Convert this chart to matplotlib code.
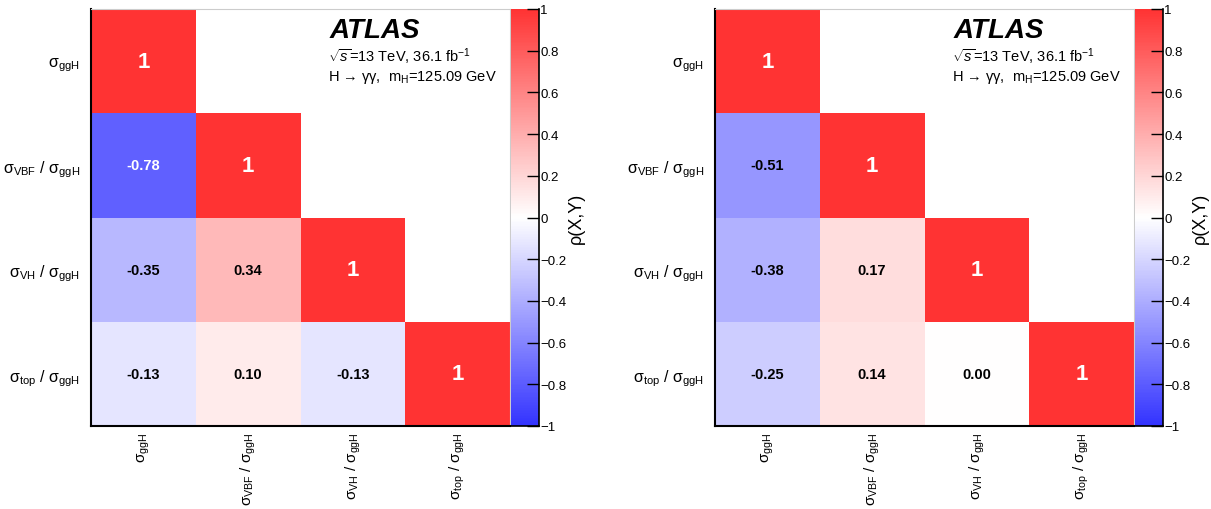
import numpy as np
import matplotlib
matplotlib.use('Agg')
import matplotlib.pyplot as plt
from matplotlib.colors import LinearSegmentedColormap

plt.rcParams['font.family'] = ['Liberation Sans', 'DejaVu Sans']
plt.rcParams['mathtext.fontset'] = 'custom'
plt.rcParams['mathtext.rm'] = 'Liberation Sans'
plt.rcParams['mathtext.it'] = 'Liberation Sans:italic'
plt.rcParams['mathtext.bf'] = 'Liberation Sans:bold'

labels = [r'σ$_{\mathrm{ggH}}$',
          r'σ$_{\mathrm{VBF}}$ / σ$_{\mathrm{ggH}}$',
          r'σ$_{\mathrm{VH}}$ / σ$_{\mathrm{ggH}}$',
          r'σ$_{\mathrm{top}}$ / σ$_{\mathrm{ggH}}$']

# lower triangle, row by row (row 0 = top)
corr_left = [[1.0],
             [-0.78, 1.0],
             [-0.35, 0.34, 1.0],
             [-0.13, 0.10, -0.13, 1.0]]
corr_right = [[1.0],
              [-0.51, 1.0],
              [-0.38, 0.17, 1.0],
              [-0.25, 0.14, 0.00, 1.0]]

cbar_ticks = [-1, -0.8, -0.6, -0.4, -0.2, 0, 0.2, 0.4, 0.6, 0.8, 1]
cbar_ticklabels = ['−1', '−0.8', '−0.6', '−0.4', '−0.2', '0',
                   '0.2', '0.4', '0.6', '0.8', '1']

cmap = LinearSegmentedColormap.from_list('rwb', [(0.2, 0.2, 1.0), (1, 1, 1), (1.0, 0.2, 0.2)])

W, H = 1211, 510
fig = plt.figure(figsize=(W / 100, H / 100), dpi=100)


def to_matrix(rows):
    n = len(rows)
    m = np.full((n, n), np.nan)
    for i, r in enumerate(rows):
        for j, v in enumerate(r):
            m[i, j] = v
    return m


def draw_panel(rows, x0, cx0):
    ax = fig.add_axes([x0 / W, 83 / H, 419 / W, 417 / H])
    cax = fig.add_axes([cx0 / W, 83 / H, 28 / W, 417 / H])
    mat = to_matrix(rows)
    n = mat.shape[0]
    mesh = ax.pcolormesh(np.arange(n + 1), np.arange(n + 1), np.ma.masked_invalid(mat),
                         cmap=cmap, vmin=-1, vmax=1)
    ax.set_xlim(0, n)
    ax.set_ylim(n, 0)
    ax.set_xticks(np.arange(n) + 0.5)
    ax.set_yticks(np.arange(n) + 0.5)
    ax.set_xticklabels(labels, rotation=90, fontsize=11)
    ax.set_yticklabels(labels, fontsize=11.5)
    ax.tick_params(axis='y', length=0, pad=8)
    ax.tick_params(axis='x', length=0, pad=4)
    for s in ['left', 'bottom']:
        ax.spines[s].set_linewidth(1.5)
        ax.spines[s].set_color('black')
    for s in ['top', 'right']:
        ax.spines[s].set_linewidth(0.8)
        ax.spines[s].set_color('#cccccc')

    for i in range(n):
        for j in range(i + 1):
            v = mat[i, j]
            if i == j:
                ax.text(j + 0.5, i + 0.5, '1', ha='center', va='center',
                        color='white', fontsize=16, fontweight='bold')
            else:
                col = 'white' if abs(v) > 0.6 else 'black'
                ax.text(j + 0.5, i + 0.5, '%.2f' % v, ha='center', va='center',
                        color=col, fontsize=10.5, fontweight='bold')

    ax.text(0.57, 0.95, 'ATLAS', transform=ax.transAxes, ha='left', va='center',
            fontsize=20, fontweight='bold', fontstyle='italic')
    ax.text(0.565, 0.887, r'$\sqrt{s}$=13 TeV, 36.1 fb$^{-1}$', transform=ax.transAxes,
            ha='left', va='center', fontsize=10.5)
    ax.text(0.565, 0.837, r'H → γγ,  m$_{\mathrm{H}}$=125.09 GeV', transform=ax.transAxes,
            ha='left', va='center', fontsize=10.5)

    cb = fig.colorbar(mesh, cax=cax, ticks=cbar_ticks)
    cb.outline.set_visible(False)
    cax.spines['right'].set_visible(True)
    cax.spines['bottom'].set_visible(True)
    cax.spines['right'].set_linewidth(1.2)
    cax.spines['bottom'].set_linewidth(1.2)
    cax.yaxis.set_ticks_position('right')
    cax.tick_params(direction='in', length=9, width=1, labelsize=9.5, pad=1)
    cax.set_yticklabels(cbar_ticklabels)
    cb.set_label('ρ(X,Y)', fontsize=13, labelpad=1)
    return ax


draw_panel(corr_left, 91, 511)
draw_panel(corr_right, 715, 1135)

fig.savefig('out.png', dpi=100)
